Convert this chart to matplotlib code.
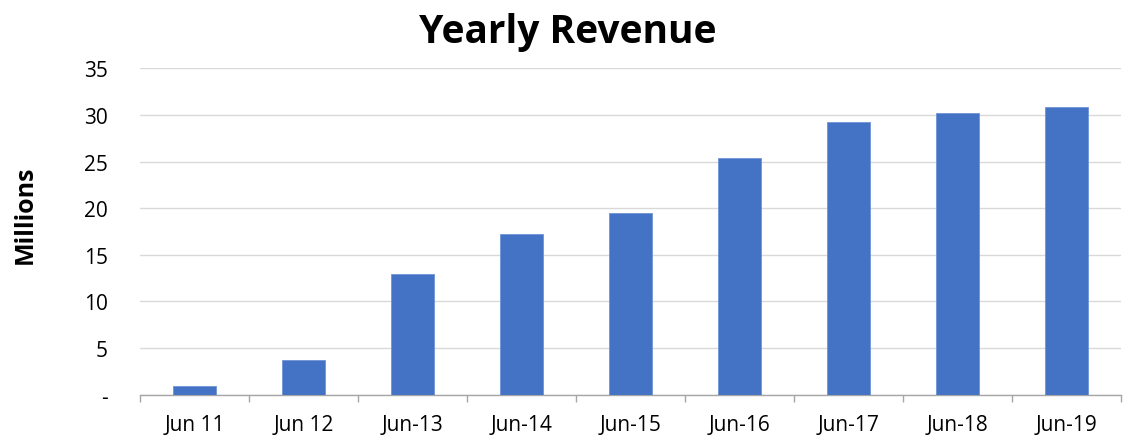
import numpy as np
import matplotlib
matplotlib.use('Agg')
import matplotlib.pyplot as plt
from matplotlib.ticker import FixedLocator

# data
labels = ['Jun 11', 'Jun 12', 'Jun-13', 'Jun-14', 'Jun-15', 'Jun-16', 'Jun-17', 'Jun-18', 'Jun-19']
revenue = [0.95, 3.75, 12.95, 17.25, 19.45, 25.35, 29.2, 30.25, 30.85]
yticks = [0, 5, 10, 15, 20, 25, 30, 35]
ytick_labels = ['-', '5', '10', '15', '20', '25', '30', '35']

plt.rcParams['font.family'] = ['Open Sans', 'DejaVu Sans']

fig = plt.figure(figsize=(11.31, 4.39), dpi=100)
ax = fig.add_axes([0.1238, 0.099, 0.8672, 0.743])

x = np.arange(len(labels))
ax.bar(x, revenue, width=0.4, color='#4472C4', edgecolor='#6f93d6', linewidth=0.6, zorder=3)

ax.set_xlim(-0.5, len(labels) - 0.5)
ax.set_ylim(0, 35)
ax.set_yticks(yticks)
ax.set_yticklabels(ytick_labels)
ax.yaxis.grid(True, color='#d9d9d9', linewidth=1.0, zorder=0)
ax.tick_params(axis='y', length=0, pad=23, labelsize=15, colors='black')

# labels centred on bars, tick marks between categories
ax.set_xticks(x)
ax.set_xticklabels(labels)
ax.tick_params(axis='x', which='major', length=0, pad=14, labelsize=15)
ax.xaxis.set_minor_locator(FixedLocator(np.arange(-0.5, len(labels), 1.0)))
ax.tick_params(axis='x', which='minor', length=5, width=1, color='#a6a6a6', direction='out')

for s in ['top', 'right', 'left']:
    ax.spines[s].set_visible(False)
ax.spines['bottom'].set_color('#a6a6a6')
ax.spines['bottom'].set_linewidth(1.0)

fig.text(0.502, 0.925, 'Yearly Revenue', ha='center', va='center', fontsize=28, fontweight='bold')
fig.text(0.022, 0.51, 'Millions', ha='center', va='center', rotation=90, fontsize=18, fontweight='bold')

plt.savefig('out.png', dpi=100)
